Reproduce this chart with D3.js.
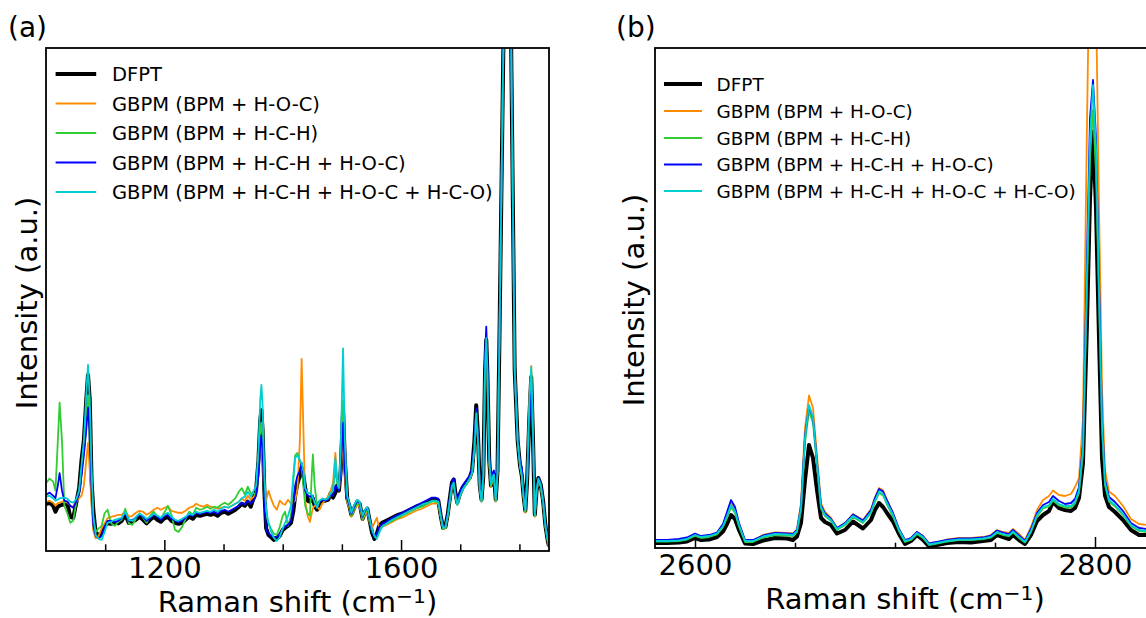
<!DOCTYPE html>
<html>
<head>
<meta charset="utf-8">
<script src="https://cdn.jsdelivr.net/npm/d3@7"></script>
<style>
  body { margin: 0; background: #fff; }
  svg { display: block; }
  text { font-family: "DejaVu Sans", sans-serif; fill: #000; }
</style>
</head>
<body>
<svg id="fig" width="1146" height="618"></svg>
<script>
// ---- Legend / series styling ----
const seriesNames = [
  "DFPT",
  "GBPM (BPM + H-O-C)",
  "GBPM (BPM + H-C-H)",
  "GBPM (BPM + H-C-H + H-O-C)",
  "GBPM (BPM + H-C-H + H-O-C + H-C-O)"
];
const seriesColors = ["#000000", "#ff8c00", "#32cd32", "#0000ff", "#00ced1"];
const seriesWidths = [4, 1.8, 1.8, 1.8, 1.8];

// ---- Panel (a): 1000-1850 cm^-1, intensity in arbitrary units (0-100 visible) ----
const shiftA = [
  1000,1006,1012,1016,1020,1023,1027,1031,1036,1041,
  1046,1051,1056,1060,1064,1068,1071,1074,1077,1080,
  1084,1089,1094,1099,1104,1110,1116,1122,1128,1134,
  1140,1146,1152,1158,1164,1170,1176,1182,1188,1194,
  1200,1206,1212,1218,1224,1230,1236,1242,1248,1254,
  1260,1266,1272,1278,1284,1290,1296,1302,1308,1314,
  1320,1326,1331,1336,1341,1346,1351,1355,1359,1362,
  1364,1366,1369,1372,1376,1380,1385,1390,1395,1400,
  1404,1409,1414,1418,1421,1425,1429,1432,1435,1438,
  1442,1446,1449,1451,1454,1458,1462,1467,1472,1477,
  1481,1485,1489,1492,1495,1498,1502,1505,1509,1513,
  1516,1521,1526,1530,1535,1539,1543,1547,1551,1555,
  1559,1563,1568,1575,1585,1595,1605,1615,1625,1635,
  1645,1652,1658,1663,1667,1671,1675,1679,1683,1686,
  1689,1692,1695,1699,1704,1710,1716,1720,1724,1727,
  1730,1733,1736,1739,1742,1744,1746,1749,1752,1755,
  1757,1760,1763,1766,1774,1779,1785,1792,1797,1801,
  1804,1807,1810,1813,1817,1820,1823,1826,1829,1832,
  1836,1840,1844,1848,1850
];
const dfptA = [
  9.3,9.6,9.0,7.8,8.8,9.0,9.2,9.3,9.5,6.8,
  6.6,9.5,12.5,18,22,30,35,30,14,8,
  3.5,3.2,3.5,5.0,5.5,5.4,5.6,5.5,6.0,7.2,
  5.6,5.8,6.2,6.8,6.2,5.5,6.2,6.8,6.2,5.8,
  6.5,6.8,6.0,5.6,5.4,5.6,6.2,6.8,6.4,7.2,
  7.0,7.2,7.4,7.2,7.4,7.0,7.6,7.8,7.4,7.8,
  8.2,8.8,9.4,9.0,9.8,8.8,10.6,12,18,26,
  28,24,12,4.5,3.2,2.8,2.2,2.4,3.0,4.2,
  4.6,5.0,5.6,8,11,13.5,15,16.5,15,12.5,
  10,9.8,10.5,10.4,9.0,8.2,9.6,10,10,10.2,
  11.5,10.6,11.6,13,12,16,28,18,10.5,8.8,
  7.2,8.6,9.8,9.4,6.4,7.8,8.4,6.0,3.6,2.4,
  3.4,5.0,5.6,6.0,6.6,7.2,7.6,8.2,8.8,9.2,
  9.8,10.2,10.2,10.0,7.0,4.6,4.8,7.4,11,13.6,
  14.2,11.4,9.6,11.2,12.6,13.6,14.6,16,22,29,
  23,13,10.2,15,36,42,35,18,13,14.6,
  15.2,10.2,16,40,110,400,112,36,22,17,
  15,11,8,14,27,34.6,22,7.2,12,14.5,
  13.2,10,5,2,1
];
const hocA = [
  9.8,10,9.6,9.0,9.5,9.6,9.8,9.8,9.6,9.0,
  8.8,9.8,10.5,11,13,18,21.5,16,9,4,
  2.5,3.0,4.5,5.5,6.5,6.8,7.0,7.2,7.2,8.0,
  6.8,7.0,7.6,8.0,7.8,7.2,7.6,8.2,8.6,8.2,
  8.6,8.8,8.0,7.8,7.6,7.6,8.0,8.6,8.8,9.4,
  9.0,8.8,9.2,8.8,8.6,8.4,8.6,8.8,8.6,9.0,
  9.4,9.8,10.4,10.0,11.0,10.2,10.8,11.5,16,21,
  22,18,11,10,12,10.5,9.0,8.2,10,9.4,
  9.2,10.2,9.4,9.6,10,12.5,22,38.2,24,10,
  7,5.8,7.5,8.5,9.0,8.8,8.2,9.4,10.2,10.8,
  12,13.5,19.5,14,12,15,22.5,15,9.8,8.4,
  6.8,8.2,9.2,8.8,6.2,7.2,7.8,5.6,4.6,5.6,
  6.6,4.6,4.8,5.2,5.8,6.4,6.8,7.4,8.0,8.4,
  9.0,9.4,9.4,9.4,6.8,4.4,4.6,7.0,10.4,12.8,
  13.4,11,9.2,10.8,12.2,13.2,14.2,15.6,20.5,27.6,
  22,12.5,9.8,14.6,38,41.4,34,17.5,12.8,14.2,
  14.8,9.8,15.6,40.5,110,400,112,37,22.5,17,
  15,10.6,7.6,13.6,30,36.8,23,6.8,11.6,14,
  12.8,9.6,4.8,1.8,0.8
];
const hchA = [
  13.5,14.4,13.8,12,22,29.5,22,9,7.5,5.6,
  6.0,9.5,12,16,20,27,31,27,14,6,
  3.8,4.5,5.0,7.5,8.2,5.5,5.0,5.8,6.2,8.4,
  5.5,5.2,6.4,7.5,6.6,5.6,7.0,7.8,7.0,6.4,
  7.6,9.0,7.2,4.2,3.8,4.8,6.4,7.8,7.2,8.6,
  8.2,8.4,8.8,8.4,8.8,8.6,9.2,9.6,9.2,9.8,
  10.5,11.8,12.5,11.2,12.8,11.5,11.5,11,18,24,
  25.5,22,14,7,5.5,4.5,3.4,3.2,4.8,7,
  7.8,5,7,14,19,19.5,18,17,13,9,
  7.5,7,15,19.2,13,9,9.8,10.4,10,10.4,
  11,12.5,16,13.5,12.5,18,30,18,10.2,8.8,
  7,8.4,9.6,9.2,6.4,7.6,8.2,5.8,3.8,3.0,
  3.2,4.2,5.0,5.4,6.0,6.6,7.2,7.8,8.4,8.8,
  9.4,9.8,9.8,9.6,6.8,4.4,4.6,7.0,10.6,13,
  13.6,11,9.2,10.8,12.2,13.2,14.2,15.6,21,28,
  22.5,12.8,10,14.8,37,42,35,18,13,14.4,
  15,10,15.8,40,110,400,112,36,22,17,
  15,10.8,7.8,13.8,28,35.5,22.5,7,11.8,14.2,
  13,9.8,4.9,1.9,0.9
];
const hchHocA = [
  11.2,11.6,11,10.5,13,15.5,12,10,9.8,9,
  8.6,9.8,11.5,15,19,24,28.5,24,12,5,
  3,2.5,3,4.8,6,6,5.8,6,6.5,7.5,
  6,6.2,6.6,7.2,6.8,6,6.6,7.2,6.8,6.2,
  7,7.2,6.4,6,5.8,6,6.6,7.2,7,7.6,
  7.4,7.6,7.8,7.6,7.8,7.4,8,8.2,7.8,8.2,
  8.6,9,9.6,9.2,10,9.4,10,11,15,21,
  23,20,10,4,3.6,3,2.8,2.8,3.4,4.4,
  4.8,5.2,6,9,13,15,16,17.5,15,12,
  11,10.8,11,11,9.6,8.6,9.8,10.2,10,10.4,
  11.2,11,13,12.5,12,16,25.5,16,10.5,9,
  7.4,8.8,10,9.6,6.8,8,8.6,6.2,3.8,2.8,
  3.4,4.8,5.4,5.8,6.6,7.2,7.8,8.4,9,9.6,
  10.2,10.6,10.6,10.4,7.4,4.8,5,7.6,11.2,13.8,
  14.4,11.6,9.8,11.6,13,14,15,16.4,21.5,28.4,
  22.5,13,10.4,15.4,39,44.6,37,19,13.8,15.6,
  16,10.6,16.4,40.5,110,400,112,36,22.5,17.5,
  16.8,11.5,8.2,14,26,34,22,7.4,12,14.6,
  13.4,10.2,5.2,2.1,1.1
];
const allA = [
  10.8,11,10.5,10,10.2,10.5,10.5,10.6,10.4,9.8,
  9.6,10.3,12,17,22,31,37,30,16,7,
  3.2,2.4,2.2,3.8,5.6,5.8,6.2,6.4,6.6,7.8,
  6.2,6,6.8,7.4,7,6.4,6.8,7.4,7,6.6,
  7.2,7.6,6.8,6.2,6,6.4,6.8,7.4,7.2,7.8,
  7.6,7.8,8,7.8,8.2,7.8,8.4,8.8,8.6,9,
  9.4,9.8,10.5,10.8,11.8,10.8,12,13,20,30,
  33,29,15,8,5.6,4,2.6,2,2.8,4.5,
  5.6,7,9,15,18.5,19,18,17.5,16,12.5,
  11.5,11.5,11.2,10.6,9.6,8.6,10,10.4,10.2,10.6,
  11.5,12,18.5,14,12.5,20,40.3,22,11,9.4,
  7.6,9.2,10.2,9.8,7,8.2,8.8,6.4,4.2,3.0,
  2.4,3.6,4.8,5.4,6.2,6.8,7.4,8,8.6,9.2,
  9.6,10,10,9.8,7,4.6,4.8,7.2,10.6,13,
  13.6,11,9.2,10.8,12.2,13.2,14.4,15.6,20.5,27.4,
  22,12.4,9.8,15,37,42.3,35.5,18.5,13.2,14.8,
  15.2,10,15.8,40,110,400,112,36,22,17,
  15.2,11,8,14,30,36.6,23,7.2,12,14.4,
  13.2,10,5,2,1
];
const majorTicksA = [1200, 1600];
const minorTicksA = [1100, 1300, 1400, 1500, 1700, 1800];

// ---- Panel (b): 2580-2830 cm^-1 ----
const shiftB = [
  2580,2586,2592,2596,2600,2603,2607,2611,2614,2616,
  2618,2620,2622,2625,2629,2634,2640,2646,2649,2651,
  2653,2655,2657,2659,2661,2663,2665,2668,2671,2675,
  2679,2684,2688,2690,2692,2694,2696,2699,2702,2705,
  2708,2711,2714,2717,2721,2726,2732,2738,2744,2748,
  2751,2754,2757,2759,2762,2765,2768,2771,2774,2777,
  2779,2782,2785,2788,2790,2792,2794,2796,2797.5,2799,
  2800.5,2802,2803.5,2805,2807,2810,2814,2818,2822,2826,
  2830
];
const dfptB = [
  1.0,1.0,1.1,1.3,2.0,1.6,1.7,2.2,3.3,4.8,
  6.6,5.8,3.6,0.9,0.8,1.5,2.0,1.9,1.6,2.3,
  5.0,13.6,20.6,18,11.6,6.0,5.2,4.6,2.9,3.6,
  5.3,3.9,5.6,7.6,9.0,8.2,7.0,5.3,2.8,0.8,
  1.4,2.6,1.6,0.3,0.6,1.0,1.2,1.1,1.4,1.6,
  2.6,2.2,1.8,2.6,1.6,0.8,2.6,5.4,6.6,7.4,
  9.2,8.0,7.6,7.4,8.0,10,17,45,70,83.3,
  68,42,18,10.5,8.2,7.2,5.6,3.6,2.6,2.6,
  2.6
];
const hocB = [
  1.5,1.5,1.6,1.9,2.7,2.3,2.5,3.0,4.6,6.8,
  9.0,7.8,4.8,1.5,1.5,2.6,3.1,3.0,2.9,3.7,
  9.0,24,30.5,28,18.5,9.0,7.2,6.0,4.0,5.0,
  6.8,5.6,7.8,10.2,12.0,11.6,9.6,7.0,3.8,1.5,
  2.0,3.2,2.4,0.9,1.2,1.7,2.0,2.0,2.2,2.6,
  3.6,3.2,3.0,3.8,2.8,1.6,4.2,7.6,9.6,10.4,
  11.5,10.6,10.4,10.8,12.2,14,26,85,125,150,
  110,68,32,15.5,11.3,10.4,8.4,5.8,4.8,4.6,
  4.4
];
const hchB = [
  1.3,1.3,1.4,1.7,2.4,2.0,2.2,2.7,4.2,6.0,
  8.2,7.0,4.3,1.2,1.2,2.1,2.6,2.5,2.4,3.2,
  7.6,21,27.4,25,16.4,7.9,6.4,5.4,3.6,4.6,
  6.2,5.0,7.0,9.2,11.0,10.5,8.7,6.3,3.4,1.2,
  1.6,2.8,2.0,0.6,0.9,1.3,1.6,1.6,1.8,2.1,
  3.0,2.6,2.4,3.1,2.0,1.1,3.2,6.3,7.9,8.3,
  9.5,8.5,8.1,8.1,8.9,11.0,19,52,78,87.6,
  75,50,24,12.6,9.3,8.3,6.6,4.4,3.4,3.2,
  3.0
];
const hchHocB = [
  1.6,1.6,1.8,2.1,2.9,2.4,2.6,3.1,4.8,7.2,
  9.6,8.2,5.0,1.6,1.6,2.5,3.0,2.9,2.8,3.6,
  8.4,22.5,28.3,26,17.2,8.5,6.9,5.8,4.0,5.0,
  6.7,5.5,7.6,10,11.8,11.3,9.5,7.0,3.8,1.6,
  2.0,3.2,2.4,0.9,1.2,1.6,1.9,1.9,2.1,2.5,
  3.5,3.1,2.8,3.6,2.5,1.4,3.8,7.0,8.6,9.2,
  10.4,9.4,8.8,9.0,9.8,12.2,21,58,86,93.6,
  82,54,26,13.6,10.2,9.2,7.4,5.0,4.0,3.8,
  3.6
];
const allB = [
  1.4,1.4,1.5,1.8,2.6,2.2,2.4,2.9,4.4,6.4,
  8.6,7.4,4.6,1.4,1.4,2.3,2.8,2.7,2.6,3.4,
  8.0,22,28.6,26,17,8.2,6.6,5.6,3.8,4.8,
  6.4,5.2,7.2,9.5,11.3,10.8,9.0,6.6,3.6,1.4,
  1.8,3.0,2.2,0.7,1.0,1.4,1.7,1.7,1.9,2.2,
  3.2,2.8,2.5,3.3,2.2,1.2,3.4,6.6,8.2,8.6,
  9.8,8.8,8.4,8.4,9.2,11.5,20,55,82,92.6,
  80,52,25,13,9.6,8.6,6.8,4.6,3.6,3.4,
  3.2
];
const majorTicksB = [2600, 2800];
const minorTicksB = [2650, 2700, 2750];

const svg = d3.select("#fig");

function drawPanel(p) {
  const x = d3.scaleLinear().domain(p.xDomain).range([p.left, p.right]);
  const y = d3.scaleLinear().domain([0, 100]).range([p.bottom, p.top]);
  const g = svg.append("g");

  const clipId = "clip-" + p.id;
  svg.append("clipPath").attr("id", clipId).append("rect")
    .attr("x", p.left).attr("y", p.top)
    .attr("width", p.right - p.left).attr("height", p.bottom - p.top);

  // spectra
  const plot = g.append("g").attr("clip-path", `url(#${clipId})`);
  const line = d3.line().x((d, i) => x(p.shift[i])).y(d => y(d));
  p.series.forEach((vals, k) => {
    plot.append("path").datum(vals)
      .attr("d", line)
      .attr("fill", "none")
      .attr("stroke", seriesColors[k])
      .attr("stroke-width", seriesWidths[k])
      .attr("stroke-linejoin", "round")
      .attr("stroke-linecap", "butt");
  });

  // inward ticks on the bottom axis
  const minorAxis = g.append("g").attr("transform", `translate(0,${p.bottom})`)
    .call(d3.axisBottom(x).tickValues(p.minorTicks).tickSize(-p.minorLen).tickFormat(""));
  minorAxis.select(".domain").remove();
  minorAxis.selectAll("line").attr("stroke-width", 1.5);

  const majorAxis = g.append("g").attr("transform", `translate(0,${p.bottom})`)
    .call(d3.axisBottom(x).tickValues(p.majorTicks).tickSize(-11).tickPadding(6).tickFormat(d3.format("d")));
  majorAxis.select(".domain").remove();
  majorAxis.attr("font-family", "DejaVu Sans, sans-serif").attr("font-size", 29);
  majorAxis.selectAll("line").attr("stroke-width", 1.5);
  majorAxis.selectAll("text").attr("fill", "#000");

  // frame
  g.append("rect")
    .attr("x", p.left).attr("y", p.top)
    .attr("width", p.right - p.left).attr("height", p.bottom - p.top)
    .attr("fill", "none").attr("stroke", "#000").attr("stroke-width", 1.8);

  // x label with superscript
  const xl = g.append("text")
    .attr("x", p.xLabelX).attr("y", p.xLabelY)
    .attr("text-anchor", "middle").attr("font-size", 29);
  xl.append("tspan").text("Raman shift (cm");
  xl.append("tspan").attr("font-size", 20.3).attr("dy", -9).text("\u22121");
  xl.append("tspan").attr("dy", 9).text(")");

  // y label
  g.append("text")
    .attr("transform", `translate(${p.yLabelX},${p.yLabelY}) rotate(-90)`)
    .attr("text-anchor", "middle").attr("font-size", 29)
    .text("Intensity (a.u.)");

  // panel tag
  g.append("text").attr("x", p.tagX).attr("y", p.tagY)
    .attr("font-size", 28).text(p.tag);

  // legend
  const lg = g.append("g");
  seriesNames.forEach((name, k) => {
    const yy = p.legendRows[k];
    lg.append("line")
      .attr("x1", p.legendX0).attr("x2", p.legendX1)
      .attr("y1", yy).attr("y2", yy)
      .attr("stroke", seriesColors[k]).attr("stroke-width", seriesWidths[k]);
    lg.append("text")
      .attr("x", p.legendTextX).attr("y", yy + 0.36 * p.legendFont)
      .attr("font-size", p.legendFont).text(name);
  });
}

drawPanel({
  id: "a", tag: "(a)", tagX: 8, tagY: 37,
  left: 46, right: 549, top: 48, bottom: 551,
  xDomain: [1000, 1850],
  shift: shiftA, series: [dfptA, hocA, hchA, hchHocA, allA],
  majorTicks: majorTicksA, minorTicks: minorTicksA, minorLen: 6.7,
  xLabelX: 297.5, xLabelY: 612, yLabelX: 37, yLabelY: 303,
  legendRows: [74, 103.5, 133, 162.5, 192],
  legendX0: 55.6, legendX1: 96.2, legendTextX: 112, legendFont: 19.5
});

drawPanel({
  id: "b", tag: "(b)", tagX: 616, tagY: 37,
  left: 655, right: 1155, top: 48, bottom: 548,
  xDomain: [2580, 2830],
  shift: shiftB, series: [dfptB, hocB, hchB, hchHocB, allB],
  majorTicks: majorTicksB, minorTicks: minorTicksB, minorLen: 5.3,
  xLabelX: 905, xLabelY: 609, yLabelX: 644, yLabelY: 300,
  legendRows: [84, 111, 138, 164.5, 191],
  legendX0: 664, legendX1: 702, legendTextX: 716.6, legendFont: 18.4
});
</script>
</body>
</html>
